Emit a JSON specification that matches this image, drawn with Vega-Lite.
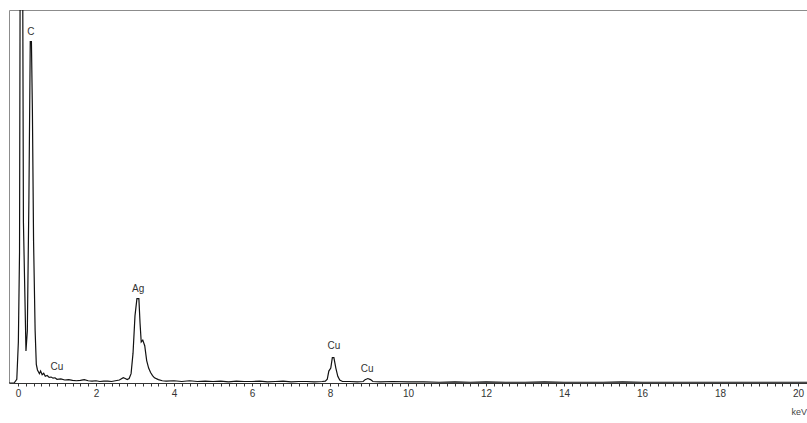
{
  "$schema": "https://vega.github.io/schema/vega-lite/v6.json",
  "width": 798,
  "height": 373,
  "autosize": {"type": "none"},
  "padding": {"left": 9, "top": 10, "right": 0, "bottom": 40},
  "background": "white",
  "config": {"view": {"stroke": "#8c8c8c", "strokeWidth": 1}, "font": "Liberation Sans"},
  "datasets": {
    "spectrum": [
      {"keV": -0.23, "counts": 0}, {"keV": -0.1, "counts": 0}, {"keV": -0.03, "counts": 1},
      {"keV": 0.01, "counts": 11}, {"keV": 0.04, "counts": 35}, {"keV": 0.06, "counts": 130},
      {"keV": 0.115, "counts": 130}, {"keV": 0.14, "counts": 43}, {"keV": 0.18, "counts": 22},
      {"keV": 0.205, "counts": 8.6}, {"keV": 0.24, "counts": 14}, {"keV": 0.28, "counts": 49},
      {"keV": 0.315, "counts": 91.5}, {"keV": 0.345, "counts": 91.5}, {"keV": 0.37, "counts": 73},
      {"keV": 0.4, "counts": 38}, {"keV": 0.44, "counts": 14}, {"keV": 0.47, "counts": 5},
      {"keV": 0.5, "counts": 3.5}, {"keV": 0.55, "counts": 2.5}, {"keV": 0.58, "counts": 3.2},
      {"keV": 0.62, "counts": 2.2}, {"keV": 0.66, "counts": 2.6}, {"keV": 0.7, "counts": 1.8},
      {"keV": 0.75, "counts": 2.0}, {"keV": 0.8, "counts": 1.5}, {"keV": 0.85, "counts": 1.6},
      {"keV": 0.9, "counts": 1.3}, {"keV": 0.95, "counts": 1.4}, {"keV": 1.0, "counts": 1.0},
      {"keV": 1.1, "counts": 1.1}, {"keV": 1.2, "counts": 0.8}, {"keV": 1.3, "counts": 0.9},
      {"keV": 1.4, "counts": 0.7}, {"keV": 1.5, "counts": 0.6}, {"keV": 1.6, "counts": 0.7},
      {"keV": 1.7, "counts": 0.9}, {"keV": 1.8, "counts": 0.6}, {"keV": 1.9, "counts": 0.5},
      {"keV": 2.0, "counts": 0.6}, {"keV": 2.1, "counts": 0.4}, {"keV": 2.2, "counts": 0.5},
      {"keV": 2.3, "counts": 0.5}, {"keV": 2.4, "counts": 0.4}, {"keV": 2.5, "counts": 0.6},
      {"keV": 2.6, "counts": 0.8}, {"keV": 2.7, "counts": 1.4}, {"keV": 2.75, "counts": 1.2},
      {"keV": 2.8, "counts": 0.9}, {"keV": 2.85, "counts": 1.2}, {"keV": 2.9, "counts": 2.5},
      {"keV": 2.95, "counts": 8}, {"keV": 3.0, "counts": 18}, {"keV": 3.05, "counts": 22.6},
      {"keV": 3.1, "counts": 22.6}, {"keV": 3.13, "counts": 16}, {"keV": 3.16, "counts": 11},
      {"keV": 3.2, "counts": 11.5}, {"keV": 3.25, "counts": 10}, {"keV": 3.3, "counts": 6},
      {"keV": 3.35, "counts": 4}, {"keV": 3.4, "counts": 2.8}, {"keV": 3.45, "counts": 2},
      {"keV": 3.5, "counts": 1.4}, {"keV": 3.6, "counts": 0.9}, {"keV": 3.7, "counts": 0.6},
      {"keV": 3.8, "counts": 0.5}, {"keV": 4.0, "counts": 0.6}, {"keV": 4.2, "counts": 0.4},
      {"keV": 4.4, "counts": 0.6}, {"keV": 4.6, "counts": 0.4}, {"keV": 4.8, "counts": 0.5},
      {"keV": 5.0, "counts": 0.4}, {"keV": 5.2, "counts": 0.5}, {"keV": 5.4, "counts": 0.3},
      {"keV": 5.6, "counts": 0.5}, {"keV": 5.8, "counts": 0.4}, {"keV": 6.0, "counts": 0.4},
      {"keV": 6.2, "counts": 0.5}, {"keV": 6.4, "counts": 0.3}, {"keV": 6.6, "counts": 0.4},
      {"keV": 6.8, "counts": 0.5}, {"keV": 7.0, "counts": 0.3}, {"keV": 7.2, "counts": 0.4},
      {"keV": 7.4, "counts": 0.4}, {"keV": 7.6, "counts": 0.3}, {"keV": 7.8, "counts": 0.4},
      {"keV": 7.88, "counts": 0.5}, {"keV": 7.93, "counts": 1.0}, {"keV": 7.97, "counts": 3.2},
      {"keV": 8.02, "counts": 4.0}, {"keV": 8.06, "counts": 6.8}, {"keV": 8.1, "counts": 6.8},
      {"keV": 8.15, "counts": 4.0}, {"keV": 8.2, "counts": 1.8}, {"keV": 8.25, "counts": 0.8},
      {"keV": 8.32, "counts": 0.4}, {"keV": 8.5, "counts": 0.4}, {"keV": 8.7, "counts": 0.3},
      {"keV": 8.85, "counts": 0.4}, {"keV": 8.9, "counts": 0.9}, {"keV": 8.97, "counts": 1.2},
      {"keV": 9.04, "counts": 0.9}, {"keV": 9.1, "counts": 0.4}, {"keV": 9.3, "counts": 0.3},
      {"keV": 9.6, "counts": 0.4}, {"keV": 10.0, "counts": 0.3}, {"keV": 10.4, "counts": 0.3},
      {"keV": 10.8, "counts": 0.2}, {"keV": 11.2, "counts": 0.3}, {"keV": 11.6, "counts": 0.2},
      {"keV": 12.0, "counts": 0.3}, {"keV": 12.5, "counts": 0.2}, {"keV": 13.0, "counts": 0.2},
      {"keV": 13.5, "counts": 0.3}, {"keV": 14.0, "counts": 0.2}, {"keV": 14.5, "counts": 0.2},
      {"keV": 15.0, "counts": 0.2}, {"keV": 15.5, "counts": 0.3}, {"keV": 16.0, "counts": 0.2},
      {"keV": 16.5, "counts": 0.2}, {"keV": 17.0, "counts": 0.2}, {"keV": 17.5, "counts": 0.2},
      {"keV": 18.0, "counts": 0.2}, {"keV": 18.5, "counts": 0.2}, {"keV": 19.0, "counts": 0.2},
      {"keV": 19.5, "counts": 0.2}, {"keV": 20.0, "counts": 0.2}, {"keV": 20.23, "counts": 0.2}
    ],
    "labels": [
      {"keV": 0.33, "counts": 92.8, "label": "C"},
      {"keV": 3.08, "counts": 23.9, "label": "Ag"},
      {"keV": 1.0, "counts": 2.9, "label": "Cu"},
      {"keV": 8.1, "counts": 8.6, "label": "Cu"},
      {"keV": 8.95, "counts": 2.4, "label": "Cu"}
    ]
  },
  "layer": [
    {
      "data": {"name": "spectrum"},
      "mark": {"type": "line", "color": "#111111", "strokeWidth": 1.2, "clip": true},
      "encoding": {
        "x": {
          "field": "keV", "type": "quantitative",
          "scale": {"domain": [-0.23, 20.23], "nice": false, "zero": false},
          "axis": {
            "values": [0,0.2,0.4,0.6,0.8,1,1.2,1.4,1.6,1.8,2,2.2,2.4,2.6,2.8,3,3.2,3.4,3.6,3.8,4,4.2,4.4,4.6,4.8,5,5.2,5.4,5.6,5.8,6,6.2,6.4,6.6,6.8,7,7.2,7.4,7.6,7.8,8,8.2,8.4,8.6,8.8,9,9.2,9.4,9.6,9.8,10,10.2,10.4,10.6,10.8,11,11.2,11.4,11.6,11.8,12,12.2,12.4,12.6,12.8,13,13.2,13.4,13.6,13.8,14,14.2,14.4,14.6,14.8,15,15.2,15.4,15.6,15.8,16,16.2,16.4,16.6,16.8,17,17.2,17.4,17.6,17.8,18,18.2,18.4,18.6,18.8,19,19.2,19.4,19.6,19.8,20],
            "tickCount": 500,
            "labelExpr": "abs(datum.value - round(datum.value/2)*2) < 0.001 ? format(datum.value, 'd') : ''",
            "labelOverlap": false,
            "labelFlush": false,
            "labelFontSize": 10,
            "labelColor": "#333333",
            "labelPadding": 2,
            "tickSize": 3,
            "tickColor": "#333333",
            "domainColor": "#333333",
            "grid": false,
            "title": "keV",
            "titleFontSize": 9,
            "titleFontWeight": "normal",
            "titleColor": "#444444",
            "titleAlign": "left",
            "titleAnchor": null,
            "titleBaseline": "alphabetic",
            "titleX": 782,
            "titleY": 31
          }
        },
        "y": {
          "field": "counts", "type": "quantitative",
          "scale": {"domain": [0, 100], "nice": false},
          "axis": null
        }
      }
    },
    {
      "data": {"name": "labels"},
      "mark": {"type": "text", "baseline": "bottom", "fontSize": 10, "color": "#333333"},
      "encoding": {
        "x": {"field": "keV", "type": "quantitative"},
        "y": {"field": "counts", "type": "quantitative"},
        "text": {"field": "label"}
      }
    }
  ]
}
